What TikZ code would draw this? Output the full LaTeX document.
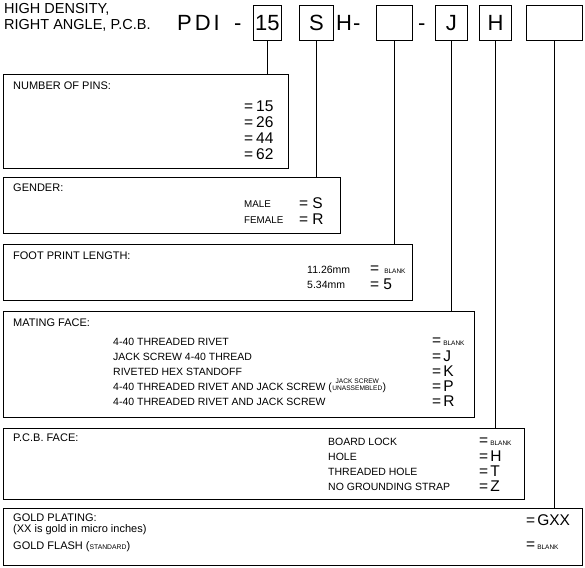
\documentclass[tikz,border=0pt]{standalone}
\usepackage{fontspec}
\setmainfont{Liberation Sans}
\newcommand\fs[1]{\fontsize{#1}{#1}\selectfont}
\newcommand\blankword{{\fs{6.5}BLANK}}
\tikzset{
  box/.style={draw, line width=0.9pt, inner sep=0pt, anchor=north west},
  topbox/.style={draw, line width=0.9pt, inner sep=0pt, anchor=north west, minimum height=35pt, font=\fs{22}},
  toptext/.style={inner sep=0pt, anchor=base west, font=\fs{22}},
  head/.style={inner sep=0pt, anchor=base west, font=\fs{14.5}},
  title/.style={inner sep=0pt, anchor=base west, font=\fs{11}},
  item/.style={inner sep=0pt, anchor=base west, font=\fs{10.5}},
  tinytxt/.style={inner sep=0pt, font=\fs{6.6}},
  code/.style={inner sep=0pt, anchor=base west, font=\fs{15.5}},
  conn/.style={line width=0.9pt}
}
\begin{document}
\begin{tikzpicture}[x=1pt,y=-1pt]
\useasboundingbox[fill=white] (0,0) rectangle (585,567);
% header
\node[head] (h1) at (4,14) {HIGH DENSITY,};
\node[head] (h2) at (4,30) {RIGHT ANGLE, P.C.B.};
\node[toptext] (pdi) at (177,31) {P\kern3pt D\kern3pt I};
\node[toptext] (dash1) at (234,31) {-};
\node[topbox, minimum width=28pt] (b15) at (253,5) {15};
\node[topbox, minimum width=34pt] (bS) at (299,5) {S};
\node[toptext] (hdash) at (336,31) {H\kern1pt -};
\node[topbox, minimum width=36pt] (bBl) at (376,5) {};
\node[toptext] (dash2) at (418,31) {-};
\node[topbox, minimum width=32pt] (bJ) at (435,5) {J};
\node[topbox, minimum width=32pt] (bH) at (479,5) {H};
\node[topbox, minimum width=56pt] (bL) at (526,5) {};
% boxes
\node[box, minimum width=285pt, minimum height=94pt] (box1) at (3,74) {};
\node[box, minimum width=337pt, minimum height=56pt] (box2) at (3,177) {};
\node[box, minimum width=409pt, minimum height=56pt] (box3) at (3,244) {};
\node[box, minimum width=471pt, minimum height=106pt] (box4) at (3,311) {};
\node[box, minimum width=521pt, minimum height=71pt] (box5) at (3,428) {};
\node[box, minimum width=579pt, minimum height=57pt] (box6) at (3,508) {};
% connectors
\draw[conn] (b15.south) -- (b15.south |- box1.north);
\draw[conn] (bS.south) -- (bS.south |- box2.north);
\draw[conn] (bBl.south) -- (bBl.south |- box3.north);
\draw[conn] (bJ.south) -- (bJ.south |- box4.north);
\draw[conn] (bH.south) -- (bH.south |- box5.north);
\draw[conn] (bL.south) -- (bL.south |- box6.north);
% box 1
\node[title] (t1) at (13,89) {NUMBER OF PINS:};
\node[code] (c11) at (244,111) {=\kern3pt 15};
\node[code] (c12) at (244,127) {=\kern3pt 26};
\node[code] (c13) at (244,143) {=\kern3pt 44};
\node[code] (c14) at (244,159) {=\kern3pt 62};
% box 2
\node[title] (t2) at (13,191) {GENDER:};
\node[item, font=\fs{9.8}] (i21) at (244,207) {MALE};
\node[item, font=\fs{9.8}] (i22) at (244,223) {FEMALE};
\node[code] (c21) at (299,208) {=\kern4pt S};
\node[code] (c22) at (299,224) {=\kern4pt R};
% box 3
\node[title] (t3) at (13,259) {FOOT PRINT LENGTH:};
\node[item] (i31) at (307,273) {11.26mm};
\node[item] (i32) at (307,288) {5.34mm};
\node[code] (c31) at (370,273) {=\kern5pt\blankword};
\node[code] (c32) at (370,289) {=\kern4pt 5};
% box 4
\node[title] (t4) at (13,326) {MATING FACE:};
\node[item] (i41) at (113,345) {4-40 THREADED RIVET};
\node[item] (i42) at (113,360) {JACK SCREW 4-40 THREAD};
\node[item] (i43) at (113,375) {RIVETED HEX STANDOFF};
\node[item] (i44) at (113,390) {4-40 THREADED RIVET AND JACK SCREW (};
\node[tinytxt, anchor=base west] (un) at (i44.base east) {UNASSEMBLED};
\node[tinytxt, anchor=base] (js) at ([yshift=6.5pt]un.base) {JACK SCREW};
\node[item] (cp) at (un.base east) {)};
\node[item] (i45) at (113,405) {4-40 THREADED RIVET AND JACK SCREW};
\node[code] (c41) at (432,345) {=\kern2pt\blankword};
\node[code] (c42) at (432,361) {=\kern2pt J};
\node[code] (c43) at (432,376) {=\kern2pt K};
\node[code] (c44) at (432,391) {=\kern2pt P};
\node[code] (c45) at (432,406) {=\kern2pt R};
% box 5
\node[title] (t5) at (13,441) {P.C.B. FACE:};
\node[item] (i51) at (328,445) {BOARD LOCK};
\node[item] (i52) at (328,460) {HOLE};
\node[item] (i53) at (328,475) {THREADED HOLE};
\node[item] (i54) at (328,490) {NO GROUNDING STRAP};
\node[code] (c51) at (479,445) {=\kern2pt\blankword};
\node[code] (c52) at (479,461) {=\kern2pt H};
\node[code] (c53) at (479,476) {=\kern2pt T};
\node[code] (c54) at (479,491) {=\kern2pt Z};
% box 6
\node[title] (t6) at (13,521) {GOLD PLATING:};
\node[title] (i61) at (13,532) {(XX is gold in micro inches)};
\node[title] (i62) at (13,549) {GOLD FLASH ({\fs{6.8}STANDARD})};
\node[code] (c61) at (526,525) {=\kern2pt GXX};
\node[code] (c62) at (526,549) {=\kern2pt\blankword};
\end{tikzpicture}
\end{document}
